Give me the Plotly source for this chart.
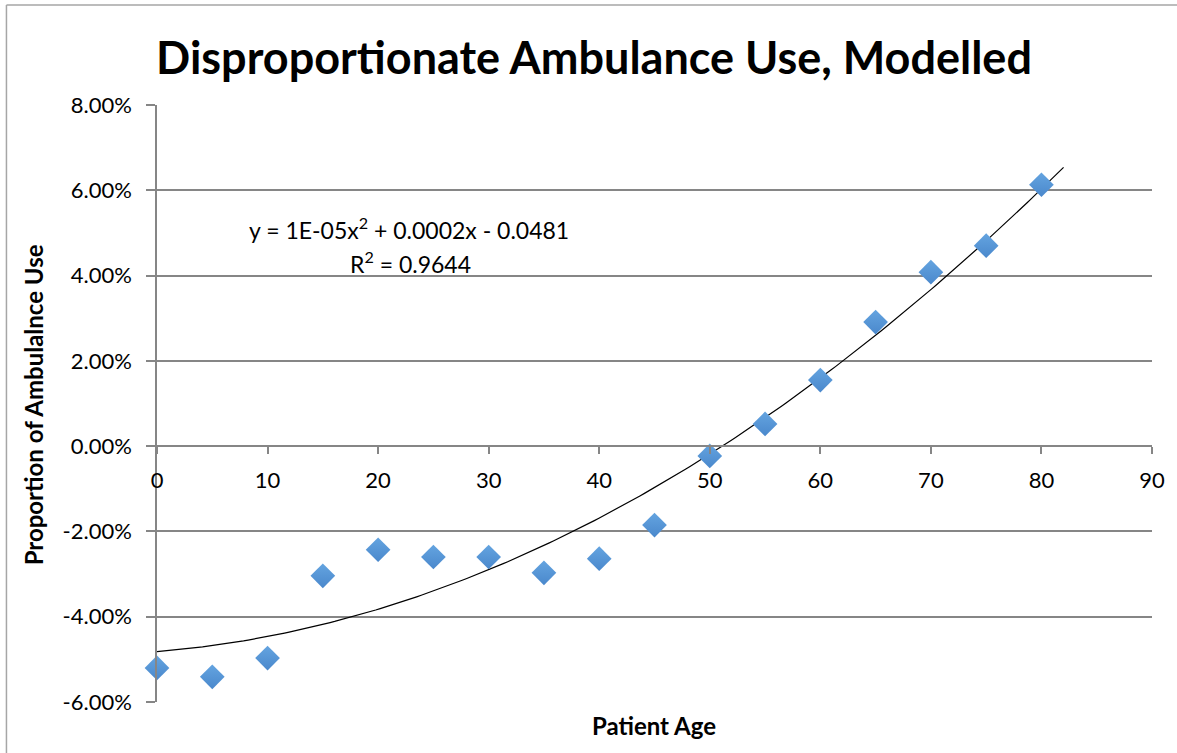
import numpy as np
import plotly.graph_objects as go

# ---- data ----
ages = [0, 5, 10, 15, 20, 25, 30, 35, 40, 45, 50, 55, 60, 65, 70, 75, 80]
proportion = [-0.0520, -0.0541, -0.0497, -0.0304, -0.0243, -0.0260, -0.0260,
              -0.0297, -0.0264, -0.0185, -0.0023, 0.0052, 0.0155, 0.0291,
              0.0408, 0.0470, 0.0613]
y_ticks = [-0.06, -0.04, -0.02, 0.0, 0.02, 0.04, 0.06, 0.08]
x_ticks = [0, 10, 20, 30, 40, 50, 60, 70, 80, 90]
title_text = "Disproportionate Ambulance Use, Modelled"
y_title = "Proportion of Ambulalnce Use"
x_title = "Patient Age"
eq_text = "y = 1E-05x<sup>2</sup> + 0.0002x - 0.0481"
r2_text = "R<sup>2</sup> = 0.9644"
trend_forward = 2

# ---- polynomial trendline (order 2), like Excel ----
coef = np.polyfit(ages, proportion, 2)
tx = np.linspace(min(ages), max(ages) + trend_forward, 200)
ty = np.polyval(coef, tx)

y_ticktext = [f"{v * 100:.2f}%" for v in y_ticks]  # hyphen minus, like Excel

FONT = "Lato"
GRID = "#868686"

# pixel geometry helpers (figure 1177x753)
L, R, T, B = 157, 1155, 105, 702
W, H = 1177, 753


def px_x(p):
    return (p - L) / (R - L)


def px_y(p):
    return (B - p) / (B - T)


fig = go.Figure()
fig.add_trace(go.Scatter(
    x=tx, y=ty, mode="lines",
    line=dict(color="black", width=1.2),
    hoverinfo="skip", showlegend=False))
fig.add_trace(go.Scatter(
    x=ages, y=proportion, mode="markers", cliponaxis=False,
    marker=dict(symbol="diamond", size=19, color="#64a4e0",
                gradient=dict(type="vertical", color="#4a88cc"),
                line=dict(width=0)),
    showlegend=False))

ymin, ymax = y_ticks[0], y_ticks[-1]
fig.update_layout(
    width=W, height=H,
    margin=dict(l=L, r=W - R, t=T, b=H - B),
    paper_bgcolor="white", plot_bgcolor="white",
    font=dict(family=FONT, color="black", size=22),
    title=dict(text="<b>" + title_text + "</b>", x=594 / W, xanchor="center",
               y=1 - 58 / H, yanchor="middle",
               font=dict(family=FONT, size=45, color="black")),
    xaxis=dict(range=[x_ticks[0], x_ticks[-1]], tickvals=x_ticks,
               showgrid=False, zeroline=False,
               showline=True, linecolor=GRID, linewidth=1.5,
               ticks="outside", ticklen=7, tickcolor=GRID, tickwidth=1.5,
               anchor="free", position=(0 - ymin) / (ymax - ymin),
               ticklabelstandoff=8,
               tickfont=dict(size=22, family=FONT)),
    yaxis=dict(range=[ymin, ymax], tickvals=y_ticks, ticktext=y_ticktext,
               showgrid=True, gridcolor=GRID, gridwidth=1.5, zeroline=False,
               showline=True, linecolor=GRID, linewidth=1.5,
               ticks="outside", ticklen=9, tickcolor=GRID, tickwidth=1.5,
               tickfont=dict(size=22, family=FONT), ticklabelstandoff=10),
    annotations=[
        dict(text="<b>" + y_title + "</b>", xref="paper", yref="paper",
             x=px_x(33), y=px_y(405), textangle=-90, showarrow=False,
             xanchor="center", yanchor="middle",
             font=dict(size=24, family=FONT)),
        dict(text="<b>" + x_title + "</b>", xref="paper", yref="paper",
             x=px_x(655), y=px_y(725), showarrow=False,
             xanchor="center", yanchor="middle",
             font=dict(size=24, family=FONT)),
        dict(text=eq_text, xref="paper", yref="paper",
             x=px_x(410), y=px_y(228), showarrow=False,
             xanchor="center", yanchor="middle",
             font=dict(size=23, family=FONT)),
        dict(text=r2_text, xref="paper", yref="paper",
             x=px_x(411), y=px_y(262), showarrow=False,
             xanchor="center", yanchor="middle",
             font=dict(size=23, family=FONT)),
    ],
    shapes=[
        dict(type="line", xref="paper", yref="paper",
             x0=px_x(6), y0=px_y(5), x1=px_x(W + 5), y1=px_y(5),
             line=dict(color="#a6a6a6", width=1.5), layer="below"),
        dict(type="line", xref="paper", yref="paper",
             x0=px_x(6), y0=px_y(5), x1=px_x(6), y1=px_y(H + 5),
             line=dict(color="#a6a6a6", width=1.5), layer="below"),
    ],
)

fig.write_html("out.html",
               config={"displayModeBar": False},
               post_script="document.body.style.margin='0';"
                           "document.body.style.overflow='hidden';")
